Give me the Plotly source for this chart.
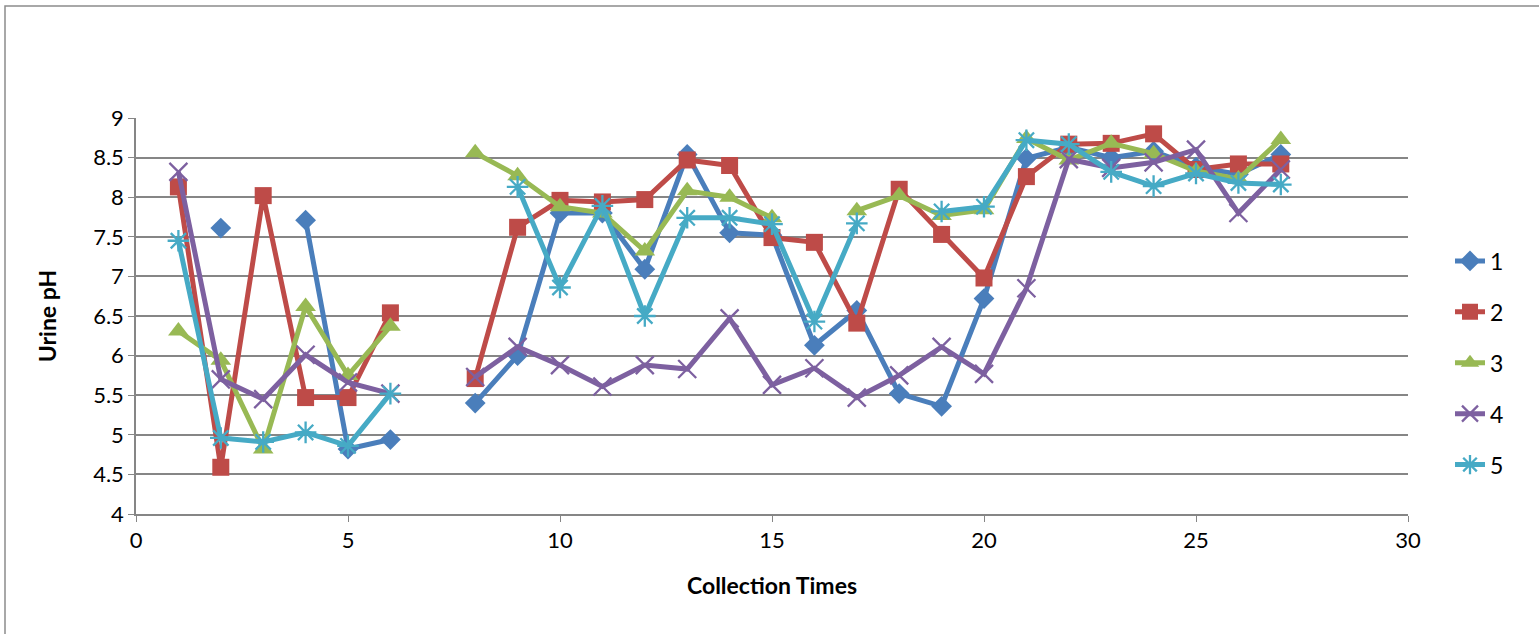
import plotly.graph_objects as go

times = list(range(1, 28))
series_names = ["1", "2", "3", "4", "5"]

s1 = [None, 7.61, None, 7.71, 4.82, 4.94, None, 5.40, 6.00, 7.80, 7.80, 7.09, 8.54, 7.55, 7.52,
      6.13, 6.57, 5.52, 5.36, 6.72, 8.49, 8.63, 8.50, 8.58, 8.38, 8.29, 8.54]
s2 = [8.13, 4.59, 8.02, 5.47, 5.47, 6.54, None, 5.71, 7.62, 7.96, 7.94, 7.97, 8.47, 8.40, 7.49,
      7.43, 6.41, 8.10, 7.53, 6.98, 8.26, 8.67, 8.68, 8.80, 8.35, 8.42, 8.42]
s3 = [6.31, 5.94, 4.82, 6.62, 5.75, 6.37, None, 8.56, 8.27, 7.88, 7.80, 7.32, 8.08, 8.00, 7.74,
      None, 7.83, 8.02, 7.77, 7.84, 8.74, 8.47, 8.68, 8.55, 8.33, 8.23, 8.73]
s4 = [8.32, 5.70, 5.45, 6.01, 5.66, 5.52, None, 5.73, 6.11, 5.88, 5.61, 5.88, 5.83, 6.47, 5.63,
      5.84, 5.47, 5.75, 6.11, 5.77, 6.85, 8.48, 8.37, 8.44, 8.60, 7.80, 8.35]
s5 = [7.45, 4.96, 4.91, 5.03, 4.86, 5.52, None, None, 8.13, 6.86, 7.89, 6.50, 7.74, 7.74, 7.66,
      6.43, 7.67, None, 7.82, 7.88, 8.72, 8.67, 8.32, 8.14, 8.30, 8.18, 8.16]

y_ticks = [4, 4.5, 5, 5.5, 6, 6.5, 7, 7.5, 8, 8.5, 9]
y_tick_labels = ["4", "4.5", "5", "5.5", "6", "6.5", "7", "7.5", "8", "8.5", "9"]
x_ticks = [0, 5, 10, 15, 20, 25, 30]
x_tick_labels = ["0", "5", "10", "15", "20", "25", "30"]

colors = ["#4A7EBB", "#BE4B48", "#98B954", "#7D60A0", "#46AAC5"]
symbols = ["diamond", "square", "triangle-up", "x-thin-open", "asterisk-open"]
sizes = [16, 17, 18, 18, 18]
all_series = [s1, s2, s3, s4, s5]

fig = go.Figure()
for i, (name, ys) in enumerate(zip(series_names, all_series)):
    marker = dict(symbol=symbols[i], size=sizes[i], color=colors[i])
    if symbols[i].endswith("open"):
        marker["line"] = dict(color=colors[i], width=2.3)
    fig.add_trace(go.Scatter(
        x=times, y=ys, name=name, mode="lines+markers",
        line=dict(color=colors[i], width=5),
        marker=marker, connectgaps=False, legendgroup=name,
    ))

L, R, T, B = 136, 131, 118, 120
W, H = 1539, 634
pw, ph = W - L - R, H - T - B

fig.update_layout(
    width=W, height=H,
    margin=dict(l=L, r=R, t=T, b=B),
    paper_bgcolor="white", plot_bgcolor="white",
    font=dict(family="Lato, Open Sans, sans-serif", size=22, color="black"),
    showlegend=True,
    legend=dict(
        x=(1450 - L) / pw, xanchor="left",
        y=(H - B - 363) / ph, yanchor="middle",
        font=dict(size=23), tracegroupgap=18,
        bgcolor="rgba(0,0,0,0)",
    ),
    xaxis=dict(
        range=[0, 30], tickvals=x_ticks, ticktext=x_tick_labels,
        tickfont=dict(size=22),
        showgrid=False, zeroline=False, showline=True, linecolor="#868686", linewidth=1.5,
        ticks="outside", ticklen=6, tickcolor="#868686",
        title=dict(text="<b>Collection Times</b>", font=dict(size=23), standoff=26),
    ),
    yaxis=dict(
        range=[4, 9], tickvals=y_ticks, ticktext=y_tick_labels,
        tickfont=dict(size=22),
        showgrid=True, gridcolor="#868686", gridwidth=1.5,
        zeroline=False, showline=True, linecolor="#868686", linewidth=1.5,
        ticks="outside", ticklen=6, tickcolor="#868686",
        title=dict(text="<b>Urine pH</b>", font=dict(size=23), standoff=30),
    ),
    shapes=[dict(
        type="rect", xref="paper", yref="paper",
        x0=(5 - L) / pw, x1=(W + 20 - L) / pw,
        y0=(H - B - (H + 20)) / ph, y1=(H - B - 6) / ph,
        line=dict(color="#8C8C8C", width=1.5), fillcolor="rgba(0,0,0,0)", layer="below",
    )],
)

fig.write_html("out.html")
